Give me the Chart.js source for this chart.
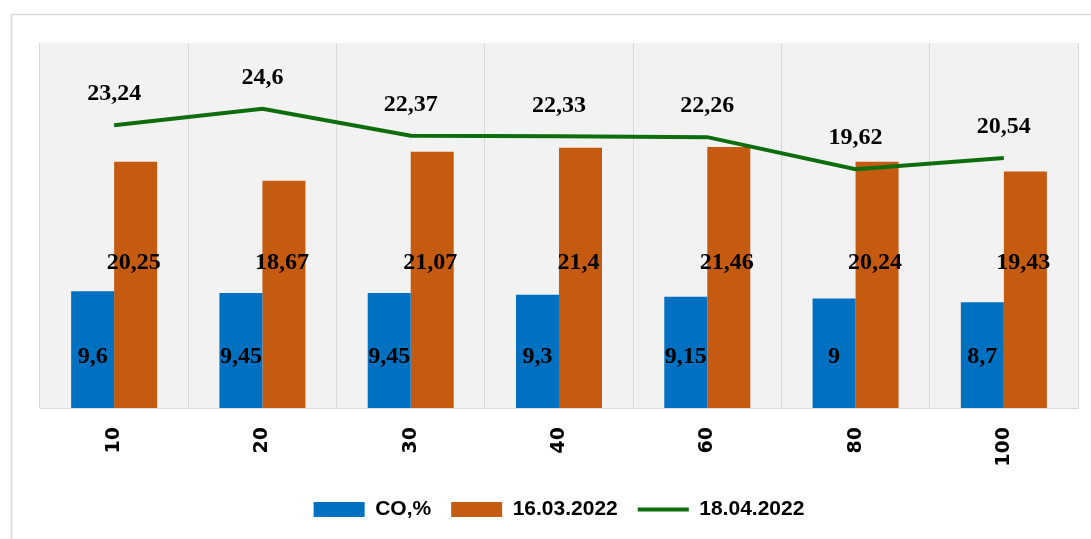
<!DOCTYPE html>
<html>
<head>
<meta charset="utf-8">
<script src="https://cdn.jsdelivr.net/npm/chart.js@4.4.1/dist/chart.umd.min.js"></script>
<style>
  html, body { margin: 0; padding: 0; background: #ffffff; }
  #c { display: block; }
</style>
</head>
<body>
<canvas id="c" width="1091" height="539"></canvas>
<script>
const categories = ['10', '20', '30', '40', '60', '80', '100'];
const coValues = [9.6, 9.45, 9.45, 9.3, 9.15, 9, 8.7];
const march16Values = [20.25, 18.67, 21.07, 21.4, 21.46, 20.24, 19.43];
const april18Values = [23.24, 24.6, 22.37, 22.33, 22.26, 19.62, 20.54];
const seriesNames = ['CO,%', '16.03.2022', '18.04.2022'];
const yMin = 0;
const yMax = 30;

const fmt = v => String(v).replace('.', ',');

const backgroundPlugin = {
  id: 'bgPlugin',
  beforeDraw(chart) {
    const ctx = chart.ctx;
    const a = chart.chartArea;
    ctx.save();
    ctx.fillStyle = '#ffffff';
    ctx.fillRect(0, 0, chart.width, chart.height);
    ctx.strokeStyle = '#d9d9d9';
    ctx.lineWidth = 1.5;
    ctx.strokeRect(11.5, 14.5, chart.width + 20, chart.height + 20);
    ctx.fillStyle = '#f2f2f2';
    ctx.fillRect(a.left, a.top, a.right - a.left, a.bottom - a.top);
    ctx.restore();
  }
};

const labelPlugin = {
  id: 'labelPlugin',
  afterDatasetsDraw(chart) {
    const ctx = chart.ctx;
    const yScale = chart.scales.y;
    ctx.save();
    ctx.font = 'bold 24px "Liberation Serif", "Times New Roman", serif';
    ctx.fillStyle = '#000000';
    ctx.textAlign = 'center';
    ctx.textBaseline = 'middle';
    const m0 = chart.getDatasetMeta(0);
    m0.data.forEach((el, i) => {
      ctx.fillText(fmt(coValues[i]), el.x, yScale.getPixelForValue(4.2));
    });
    const m1 = chart.getDatasetMeta(1);
    m1.data.forEach((el, i) => {
      ctx.fillText(fmt(march16Values[i]), el.x - 2, yScale.getPixelForValue(11.9));
    });
    const m2 = chart.getDatasetMeta(2);
    m2.data.forEach((el, i) => {
      ctx.fillText(fmt(april18Values[i]), el.x, el.y - 31);
    });
    ctx.restore();
  }
};

new Chart(document.getElementById('c'), {
  type: 'bar',
  data: {
    labels: categories,
    datasets: [
      {
        label: seriesNames[0],
        data: coValues,
        backgroundColor: '#0070c0',
        borderWidth: 0,
        pointStyle: 'rect',
        order: 1,
        categoryPercentage: 0.58,
        barPercentage: 1.0
      },
      {
        label: seriesNames[1],
        data: march16Values,
        backgroundColor: '#c55a11',
        borderWidth: 0,
        pointStyle: 'rect',
        order: 1,
        categoryPercentage: 0.58,
        barPercentage: 1.0
      },
      {
        type: 'line',
        label: seriesNames[2],
        data: april18Values,
        borderColor: '#0e6e0e',
        backgroundColor: '#0e6e0e',
        borderWidth: 4,
        pointRadius: 0,
        pointStyle: 'line',
        tension: 0,
        fill: false,
        order: 0
      }
    ]
  },
  options: {
    responsive: false,
    animation: false,
    devicePixelRatio: 1,
    layout: { padding: { left: 40, right: 13, top: 43, bottom: 9 } },
    scales: {
      x: {
        offset: true,
        grid: { display: true, offset: true, color: '#d9d9d9', lineWidth: 1, drawTicks: false },
        border: { display: true, color: '#d9d9d9', width: 1 },
        ticks: {
          minRotation: 90,
          maxRotation: 90,
          padding: 19,
          color: '#000000',
          font: { family: '"DejaVu Sans", Verdana, sans-serif', size: 19, weight: 'bold' }
        },
        afterFit(scale) { scale.height = 71; }
      },
      y: {
        display: false,
        min: yMin,
        max: yMax
      }
    },
    plugins: {
      legend: {
        position: 'bottom',
        labels: {
          usePointStyle: true,
          pointStyleWidth: 51,
          boxHeight: 15,
          padding: 20,
          color: '#000000',
          font: { family: '"Liberation Sans", Arial, sans-serif', size: 21, weight: 'bold' },
          sort: (a, b) => a.datasetIndex - b.datasetIndex
        }
      },
      tooltip: { enabled: false }
    }
  },
  plugins: [backgroundPlugin, labelPlugin]
});
</script>
</body>
</html>
